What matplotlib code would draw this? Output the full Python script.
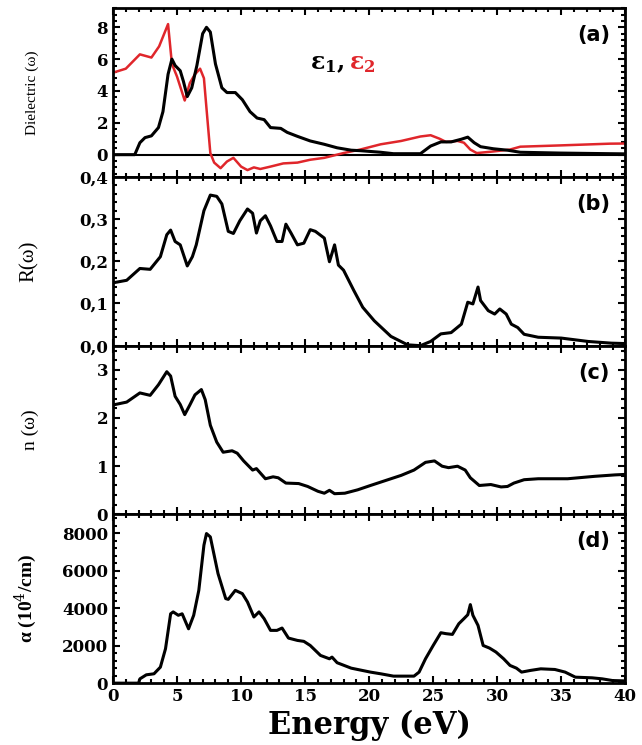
import matplotlib
matplotlib.use("Agg")
import matplotlib.pyplot as plt
from matplotlib.ticker import MultipleLocator, FuncFormatter
import numpy as np

# (a) dielectric function, black and red curves
e_eps1 = [0, 1.7, 2.1, 2.5, 3.0, 3.55, 3.9, 4.3, 4.6, 4.85, 5.25, 5.5, 5.8, 6.15, 6.55,
          7.0, 7.3, 7.6, 8.0, 8.5, 8.9, 9.55, 10.1, 10.7, 11.25, 11.8, 12.3, 13.1, 13.6,
          14.4, 15.4, 16.5, 17.5, 18.6, 19.3, 20.9, 21.9, 24.0, 24.8, 25.6, 26.4, 27.2,
          27.7, 28.2, 28.7, 29.7, 30.8, 31.8, 34.9, 38.8, 40]
eps1 = [0, 0, 0.75, 1.07, 1.18, 1.7, 2.7, 5.05, 6.0, 5.6, 5.27, 4.6, 3.65, 4.2, 5.6,
        7.6, 8.0, 7.7, 5.7, 4.2, 3.9, 3.9, 3.45, 2.7, 2.3, 2.2, 1.7, 1.65, 1.4,
        1.15, 0.86, 0.65, 0.43, 0.28, 0.25, 0.15, 0.06, 0.06, 0.54, 0.8, 0.8, 0.97,
        1.1, 0.75, 0.5, 0.37, 0.28, 0.15, 0.1, 0.06, 0.05]

e_eps2 = [0, 1.0, 2.1, 3.0, 3.6, 4.3, 4.6, 5.0, 5.6, 6.0, 6.4, 6.8, 7.1, 7.3, 7.6, 7.9,
          8.4, 8.9, 9.4, 10.0, 10.5, 11.0, 11.5, 12.3, 13.3, 14.4, 15.4, 16.5, 18.0,
          19.3, 20.9, 22.5, 24.0, 24.8, 25.5, 26.0, 26.9, 27.4, 27.9, 28.4, 29.7, 31.0,
          31.8, 34.9, 38.8, 40]
eps2 = [5.15, 5.4, 6.3, 6.1, 6.8, 8.2, 5.7, 4.9, 3.4, 4.5, 5.05, 5.4, 4.8, 2.9, 0.1, -0.5,
        -0.85, -0.43, -0.2, -0.75, -0.97, -0.8, -0.9, -0.75, -0.55, -0.5, -0.32, -0.2, 0.1,
        0.32, 0.65, 0.86, 1.14, 1.22, 1.0, 0.8, 0.86, 0.75, 0.32, 0.1, 0.2, 0.32,
        0.5, 0.58, 0.69, 0.7]

# (b) reflectivity
e_r = [0, 1.07, 2.1, 2.9, 3.7, 4.2, 4.5, 4.85, 5.25, 5.8, 6.2, 6.5, 7.1, 7.6, 8.1, 8.5,
       9.0, 9.4, 9.9, 10.5, 10.9, 11.2, 11.5, 11.9, 12.3, 12.8, 13.2, 13.5, 13.9, 14.4,
       14.9, 15.4, 15.8, 16.5, 16.9, 17.3, 17.6, 18.0, 18.8, 19.5, 20.4, 21.7, 23.0,
       24.0, 24.8, 25.6, 26.4, 27.2, 27.7, 28.1, 28.5, 28.7, 29.3, 29.8, 30.2, 30.7,
       31.1, 31.6, 32.1, 33.2, 35.0, 37.1, 38.9, 40]
refl = [0.149, 0.155, 0.183, 0.181, 0.211, 0.263, 0.274, 0.247, 0.239, 0.189, 0.211, 0.239,
        0.32, 0.357, 0.354, 0.336, 0.271, 0.266, 0.296, 0.324, 0.314, 0.267, 0.296, 0.308,
        0.284, 0.247, 0.247, 0.288, 0.267, 0.239, 0.243, 0.275, 0.271, 0.255, 0.199, 0.239,
        0.191, 0.179, 0.131, 0.091, 0.059, 0.022, 0.002, 0.0, 0.01, 0.028, 0.031, 0.051,
        0.103, 0.099, 0.139, 0.107, 0.083, 0.075, 0.087, 0.075, 0.051, 0.043, 0.027, 0.02,
        0.018, 0.01, 0.006, 0.005]

# (c) refractive index
e_n = [0, 1.07, 2.1, 2.9, 3.55, 4.2, 4.5, 4.85, 5.25, 5.6, 6.0, 6.4, 6.9, 7.2, 7.6, 8.1,
       8.6, 9.3, 9.7, 10.2, 10.9, 11.2, 11.9, 12.5, 12.9, 13.5, 14.5, 15.2, 16.0, 16.5,
       16.9, 17.3, 18.1, 19.1, 20.1, 20.9, 22.5, 23.5, 24.4, 25.1, 25.7, 26.2, 26.9,
       27.5, 27.9, 28.6, 29.5, 30.3, 30.8, 31.3, 32.1, 33.2, 35.5, 37.6, 39.2, 40]
n_idx = [2.27, 2.33, 2.52, 2.47, 2.69, 2.96, 2.87, 2.45, 2.28, 2.07, 2.27, 2.48, 2.59, 2.38,
         1.85, 1.5, 1.29, 1.32, 1.27, 1.11, 0.92, 0.95, 0.74, 0.78, 0.76, 0.65, 0.64, 0.58,
         0.48, 0.44, 0.5, 0.43, 0.44, 0.51, 0.6, 0.67, 0.81, 0.92, 1.08, 1.11, 1.0, 0.97,
         1.0, 0.92, 0.76, 0.6, 0.62, 0.57, 0.58, 0.65, 0.72, 0.74, 0.74, 0.79, 0.82, 0.83]

# (d) absorption
e_a = [0, 2.0, 2.1, 2.6, 3.2, 3.7, 4.1, 4.5, 4.7, 5.1, 5.4, 5.9, 6.3, 6.7, 7.1, 7.3, 7.6,
       7.9, 8.2, 8.8, 9.0, 9.55, 10.1, 10.5, 11.0, 11.4, 11.8, 12.3, 12.8, 13.2, 13.7,
       14.4, 14.9, 15.4, 16.2, 16.9, 17.1, 17.5, 18.6, 20.1, 20.9, 21.9, 23.5, 23.9,
       24.4, 25.0, 25.6, 26.0, 26.5, 27.0, 27.4, 27.7, 27.9, 28.1, 28.5, 28.9, 29.4,
       29.9, 30.5, 31.0, 31.5, 31.9, 32.6, 33.4, 34.5, 35.3, 36.1, 37.4, 38.2, 39.0, 40]
alpha = [0, 0, 230, 445, 500, 855, 1835, 3700, 3800, 3620, 3700, 2900, 3620, 4950, 7360,
         7980, 7800, 6820, 5845, 4510, 4470, 4950, 4775, 4330, 3530, 3800, 3440, 2815,
         2815, 2940, 2405, 2280, 2230, 2010, 1480, 1300, 1390, 1090, 800, 590, 500, 375,
         375, 590, 1300, 2010, 2690, 2640, 2600, 3170, 3440, 3650, 4190, 3620, 3080, 2010,
         1870, 1660, 1300, 945, 800, 590, 680, 765, 730, 590, 320, 285, 230, 140, 120]

plt.rcParams["mathtext.fontset"] = "dejavuserif"
tick_font = dict(family="DejaVu Serif", weight="bold", size=12)

fig, axes = plt.subplots(4, 1, sharex=True, figsize=(6.42, 7.45), dpi=100)
fig.subplots_adjust(left=0.176, right=0.974, top=0.989, bottom=0.083, hspace=0)

ax = axes[0]
ax.axhline(0, color="black", lw=1.5)
ax.plot(e_eps2, eps2, color="#e0262b", lw=1.8)
ax.plot(e_eps1, eps1, color="black", lw=2.2)
ax.set_ylim(-1.4, 9.2)
ax.yaxis.set_major_locator(MultipleLocator(2))
ax.yaxis.set_minor_locator(MultipleLocator(0.4))
ax.set_ylabel("Dielectric (ω)", family="Liberation Serif", fontsize=11)
ax.text(0.385, 0.64, r"$\mathbf{\varepsilon_1}$,", transform=ax.transAxes, fontsize=17,
        color="black", family="DejaVu Serif", weight="bold")
ax.text(0.46, 0.64, r"$\mathbf{\varepsilon_2}$", transform=ax.transAxes, fontsize=17,
        color="#e0262b", family="DejaVu Serif", weight="bold")

ax = axes[1]
ax.plot(e_r, refl, color="black", lw=2.2)
ax.set_ylim(0, 0.4)
ax.yaxis.set_major_locator(MultipleLocator(0.1))
ax.yaxis.set_minor_locator(MultipleLocator(0.02))
ax.yaxis.set_major_formatter(FuncFormatter(lambda v, p: f"{v:.1f}".replace(".", ",")))
ax.set_ylabel("R(ω)", family="Liberation Serif", fontsize=15)

ax = axes[2]
ax.plot(e_n, n_idx, color="black", lw=2.2)
ax.set_ylim(0, 3.5)
ax.yaxis.set_major_locator(MultipleLocator(1))
ax.yaxis.set_minor_locator(MultipleLocator(0.2))
ax.set_ylabel("n (ω)", family="Liberation Serif", fontsize=14)

ax = axes[3]
ax.plot(e_a, alpha, color="black", lw=2.2)
ax.set_ylim(0, 9000)
ax.yaxis.set_major_locator(MultipleLocator(2000))
ax.yaxis.set_minor_locator(MultipleLocator(400))
ax.set_ylabel(r"α (10$^4$/cm)", family="Liberation Serif", fontsize=14, weight="bold")

for ax, lab in zip(axes, ["(a)", "(b)", "(c)", "(d)"]):
    ax.set_xlim(0, 40)
    ax.xaxis.set_major_locator(MultipleLocator(5))
    ax.xaxis.set_minor_locator(MultipleLocator(1))
    ax.tick_params(which="both", direction="in", top=True, right=True, width=1.5)
    ax.tick_params(which="major", length=5)
    ax.tick_params(which="minor", length=3)
    for s in ax.spines.values():
        s.set_linewidth(2)
    for t in ax.get_yticklabels() + ax.get_xticklabels():
        t.set_fontproperties(matplotlib.font_manager.FontProperties(**tick_font))
    ax.yaxis.set_label_coords(-0.145, 0.5)
    ax.text(0.97, 0.9, lab, transform=ax.transAxes, ha="right", va="top",
            fontsize=15, weight="bold", family="DejaVu Sans")

fig.text(0.575, 0.005, "Energy (eV)", ha="center", va="bottom",
         family="DejaVu Serif", weight="bold", fontsize=22)

fig.savefig("out.png", dpi=100)
